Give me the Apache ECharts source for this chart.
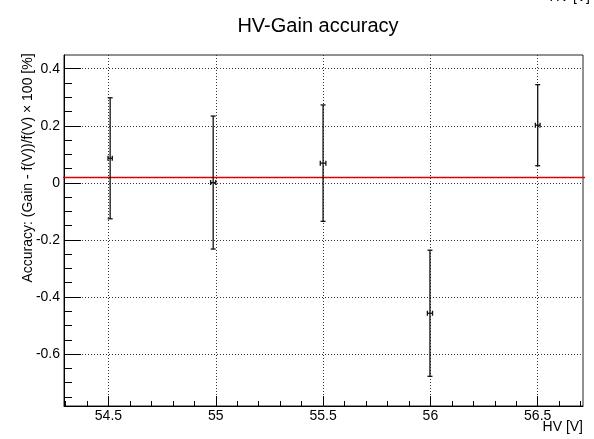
<!DOCTYPE html>
<html>
<head>
<meta charset="utf-8">
<script src="https://cdn.jsdelivr.net/npm/echarts@6/dist/echarts.min.js"></script>
<style>
  html, body { margin: 0; padding: 0; background: #fff; }
  #chart { width: 594px; height: 439px; }
</style>
</head>
<body>
<div id="chart"></div>
<script>
// measured points (HV, accuracy in %, errors)
const hv = [54.508, 54.988, 55.5, 55.998, 56.5];
const accuracy = [0.086, 0.001, 0.069, -0.457, 0.202];
const hvErr = [0.010, 0.012, 0.013, 0.012, 0.011];
const accErr = [0.212, 0.233, 0.204, 0.221, 0.142];

// constant fit
const fitValue = 0.019;
const fitRange = [54.259, 56.725];

// axis ranges / ticks
const xMin = 54.293, xMax = 56.711;
const yMin = -0.782, yMax = 0.448;
const xMajor = [54.5, 55, 55.5, 56, 56.5];
const xMinor = [54.3, 54.4, 54.6, 54.7, 54.8, 54.9, 55.1, 55.2, 55.3, 55.4,
  55.6, 55.7, 55.8, 55.9, 56.1, 56.2, 56.3, 56.4, 56.6, 56.7];
const yMajor = [-0.6, -0.4, -0.2, 0, 0.2, 0.4];
const yMinor = [-0.75, -0.7, -0.65, -0.55, -0.5, -0.45, -0.35, -0.3, -0.25,
  -0.15, -0.1, -0.05, 0.05, 0.1, 0.15, 0.25, 0.3, 0.35];

const FONT = 'Liberation Sans, Arial, sans-serif';
const chart = echarts.init(document.getElementById('chart'));

const points = hv.map((x, i) => [x, accuracy[i], hvErr[i], accErr[i]]);

const gridLine = { show: true, lineStyle: { color: '#333', type: [1, 2], width: 1 } };

chart.setOption({
  animation: false,
  grid: { left: 64, right: 11, top: 55, bottom: 33, show: true, borderColor: '#222', borderWidth: 1 },
  xAxis: [{
    type: 'value', min: xMin, max: xMax, position: 'bottom',
    axisLine: { show: true, onZero: false, lineStyle: { color: '#000', width: 1 } },
    axisTick: { show: true, inside: true, length: 10, customValues: xMajor, lineStyle: { color: '#000' } },
    axisLabel: { customValues: xMajor, color: '#000', fontSize: 14, fontFamily: FONT, margin: 3 },
    splitLine: gridLine
  }, {
    type: 'value', min: xMin, max: xMax, position: 'bottom',
    axisLine: { show: false, onZero: false },
    axisTick: { show: true, inside: true, length: 5, customValues: xMinor, lineStyle: { color: '#000' } },
    axisLabel: { show: false },
    splitLine: { show: false }
  }],
  yAxis: [{
    type: 'value', min: yMin, max: yMax, position: 'left',
    axisLine: { show: true, onZero: false, lineStyle: { color: '#000', width: 1 } },
    axisTick: { show: true, inside: true, length: 17, customValues: yMajor, lineStyle: { color: '#000' } },
    axisLabel: { customValues: yMajor, color: '#000', fontSize: 14, fontFamily: FONT, margin: 4 },
    splitLine: gridLine
  }, {
    type: 'value', min: yMin, max: yMax, position: 'left',
    axisLine: { show: false, onZero: false },
    axisTick: { show: true, inside: true, length: 8, customValues: yMinor, lineStyle: { color: '#000' } },
    axisLabel: { show: false },
    splitLine: { show: false }
  }],
  graphic: [
    { type: 'text', x: 318, y: 26, style: { text: 'HV-Gain accuracy', font: '20px ' + FONT, fill: '#000', textAlign: 'center', textVerticalAlign: 'middle' } },
    { type: 'text', x: 583, y: 427, style: { text: 'HV [V]', font: '14px ' + FONT, fill: '#000', textAlign: 'right', textVerticalAlign: 'middle' } },
    { type: 'text', x: 590, y: 4, style: { text: 'HV [V]', font: '14px ' + FONT, fill: '#000', textAlign: 'right', textVerticalAlign: 'bottom' } },
    { type: 'text', x: 28, y: 168, rotation: Math.PI / 2, style: { text: 'Accuracy: (Gain - f(V))/f(V) \u00d7 100 [%]', font: '14px ' + FONT, fill: '#000', textAlign: 'center', textVerticalAlign: 'middle' } }
  ],
  series: [{
    type: 'line',
    data: [[fitRange[0], fitValue], [fitRange[1], fitValue]],
    showSymbol: false,
    clip: false,
    lineStyle: { color: '#e00000', width: 1.5 },
    z: 3
  }, {
    type: 'custom',
    data: points,
    z: 4,
    renderItem: function (params, api) {
      const x = api.value(0), y = api.value(1), xe = api.value(2), ye = api.value(3);
      const top = api.coord([x, y + ye]);
      const bot = api.coord([x, y - ye]);
      const l = api.coord([x - xe, y]);
      const r = api.coord([x + xe, y]);
      const c = 2.5;
      const st = { stroke: '#111', lineWidth: 1.3 };
      const ln = (x1, y1, x2, y2) => ({ type: 'line', shape: { x1, y1, x2, y2 }, style: st });
      return {
        type: 'group',
        children: [
          ln(top[0], top[1], bot[0], bot[1]),
          ln(top[0] - c, top[1], top[0] + c, top[1]),
          ln(bot[0] - c, bot[1], bot[0] + c, bot[1]),
          ln(l[0], l[1], r[0], r[1]),
          ln(l[0], l[1] - c, l[0], l[1] + c),
          ln(r[0], r[1] - c, r[0], r[1] + c)
        ]
      };
    }
  }]
});
</script>
</body>
</html>
